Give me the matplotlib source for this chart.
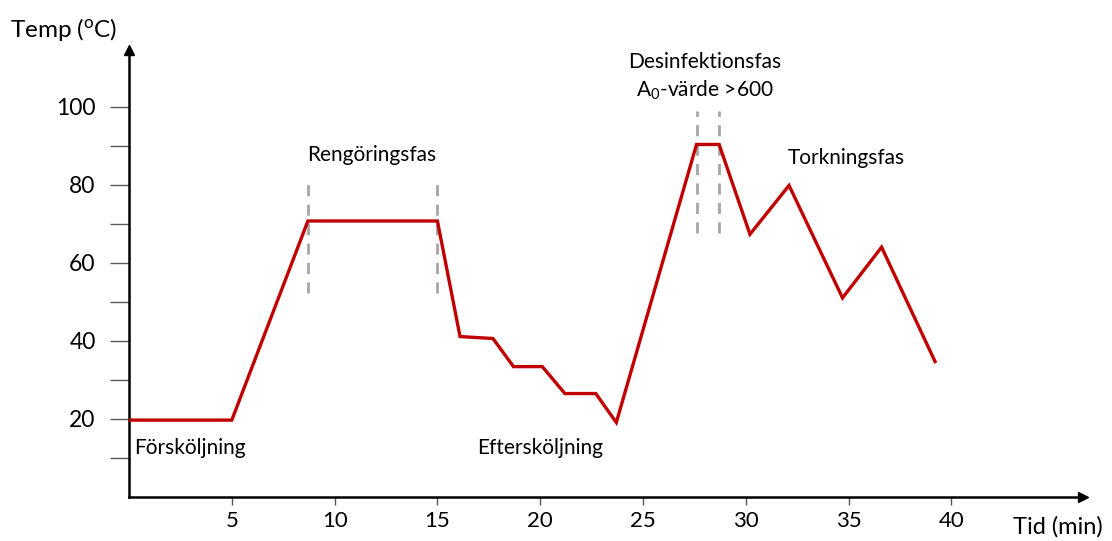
import matplotlib as mpl
mpl.use('Agg')
import matplotlib.pyplot as plt

plt.rcParams['font.family'] = ['Lato', 'DejaVu Sans']

# temperature profile (min, degC)
tid = [0, 5, 8.7, 15.0, 16.1, 17.7, 18.7, 20.1, 21.2, 22.7, 23.7, 27.6, 28.7, 30.2, 32.1, 34.7, 36.6, 39.2]
temp = [19.7, 19.7, 70.7, 70.7, 41.1, 40.6, 33.4, 33.4, 26.5, 26.5, 19.1, 90.3, 90.3, 67.3, 79.8, 51.0, 64.0, 34.7]

# dashed phase markers: x, y bottom, y top
fas_x = [8.7, 15.0, 27.6, 28.7]
fas_y0 = [52.3, 52.3, 67.6, 67.6]
fas_y1 = [81.9, 81.9, 99.0, 99.0]

xticks = [5, 10, 15, 20, 25, 30, 35, 40]
yticks = [10, 20, 30, 40, 50, 60, 70, 80, 90, 100]
ylabels = ['', '20', '', '40', '', '60', '', '80', '', '100']

fig = plt.figure(figsize=(11.12, 5.41), dpi=100)
ax = fig.add_axes([0.116, 0.0813, 0.858, 0.8263])
ax.set_xlim(0, 46.4)
ax.set_ylim(0, 114.5)

for x, y0, y1 in zip(fas_x, fas_y0, fas_y1):
  ax.plot([x, x], [y0, y1], color='#A6A6A6', lw=2, dashes=(4, 3), zorder=2)

ax.plot(tid, temp, color='#C00000', lw=2.4, solid_joinstyle='miter', zorder=3)

ax.spines['top'].set_visible(False)
ax.spines['right'].set_visible(False)
ax.spines['left'].set_linewidth(1.8)
ax.spines['bottom'].set_linewidth(1.8)
# arrow heads
ax.plot(1, 0, '>k', ms=7, transform=ax.transAxes, clip_on=False)
ax.plot(0, 1, '^k', ms=7, transform=ax.transAxes, clip_on=False)

ax.set_xticks(xticks)
ax.set_xticklabels([str(t) for t in xticks], fontsize=16)
ax.set_yticks(yticks)
ax.set_yticklabels(ylabels, fontsize=16.5)
ax.tick_params(axis='y', length=14, width=1, color='#595959', pad=10)
ax.tick_params(axis='x', length=6, width=1, color='#595959', pad=4)

fig.text(0.009, 0.945, 'Temp ($\\mathregular{^o}$C)', fontsize=17.5, ha='left', va='center')
fig.text(0.911, 0.026, 'Tid (min)', fontsize=17, ha='left', va='center')

ax.text(0.25, 12.5, 'Försköljning', fontsize=15, ha='left', va='center')
ax.text(11.8, 87.5, 'Rengöringsfas', fontsize=15, ha='center', va='center')
ax.text(20.0, 12.5, 'Eftersköljning', fontsize=15, ha='center', va='center')
ax.text(28.0, 111.3, 'Desinfektionsfas', fontsize=15, ha='center', va='center')
ax.text(28.0, 104.2, 'A$\\mathregular{_0}$-värde >600', fontsize=15, ha='center', va='center')
ax.text(34.9, 86.8, 'Torkningsfas', fontsize=15, ha='center', va='center')

plt.savefig('out.png', dpi=100)
